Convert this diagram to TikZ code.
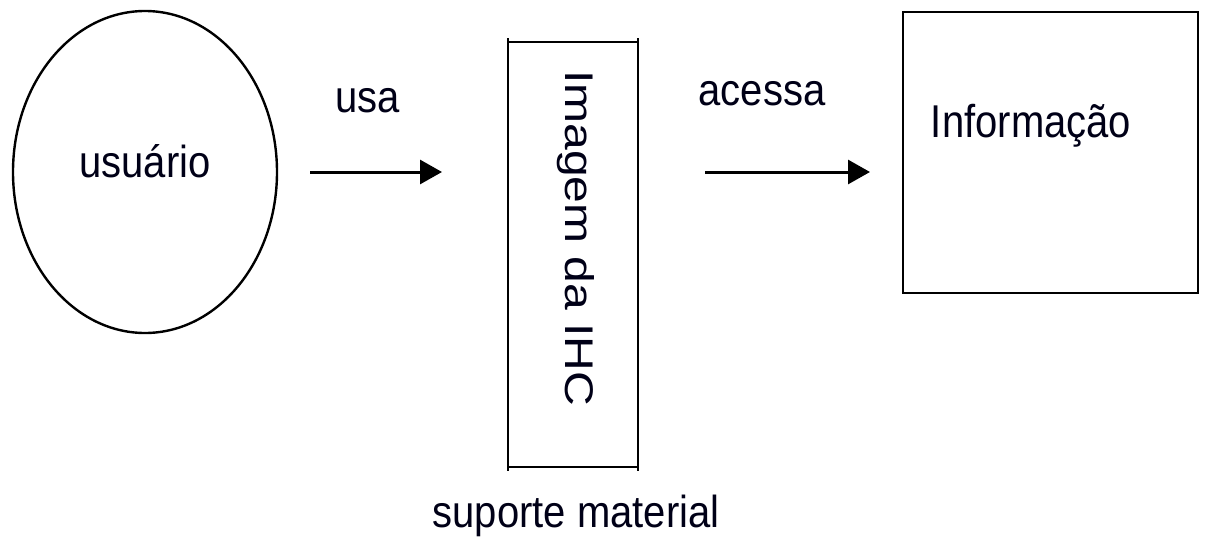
\documentclass[tikz,border=0pt]{standalone}
\usepackage{fontspec}
\setmainfont{Liberation Sans}
\usetikzlibrary{shapes.geometric,arrows.meta}

\tikzset{
  shapeline/.style={draw=black, line width=2.4pt, inner sep=0pt, outer sep=0pt},
  lbl/.style={inner sep=0pt, outer sep=0pt, font=\fontsize{40}{48}\selectfont, text=black!85!blue!60!black},
  flow/.style={line width=3pt, -{Triangle[length=22pt,width=24pt]}},
}

\begin{document}
\begin{tikzpicture}[x=1pt,y=-1pt]
  \useasboundingbox (0,0) rectangle (1205,538);
  \fill[white] (0,0) rectangle (1205,538);

  % user
  \node[shapeline, ellipse, minimum width=264pt, minimum height=322pt] (usr) at (145,172) {};
  \node[lbl, anchor=base, yscale=1.12] (usrtxt) at (145,177) {usuário};

  % interface image on its material support
  \node[shapeline, rectangle, minimum width=130pt, minimum height=425pt] (img) at (573,254.5) {};
  \draw[line width=2.4pt] ([yshift=4pt]img.north west) -- ([yshift=-4pt]img.south west);
  \draw[line width=2.4pt] ([yshift=4pt]img.north east) -- ([yshift=-4pt]img.south east);
  \node[lbl, anchor=base west, yscale=1.2, rotate=-90] (imgtxt) at (565,70) {Imagem da IHC};
  \node[lbl, anchor=base, yscale=1.12] (suporte) at (576,527) {suporte material};

  % information
  \node[shapeline, rectangle, minimum width=295pt, minimum height=281pt] (info) at (1050.5,152.5) {};
  \node[lbl, anchor=base, yscale=1.15] (infotxt) at (1031,137) {Informação};

  % relations
  \draw[flow, shorten <=33pt, shorten >=66pt] (usr.east) -- (usr.east -| img.west);
  \node[lbl, anchor=base, yscale=1.12] (usa) at (368,112) {usa};
  \draw[flow, shorten <=67pt, shorten >=33pt] (usr.east -| img.east) -- (usr.east -| info.west);
  \node[lbl, anchor=base, yscale=1.12] (acessa) at (762,105) {acessa};
\end{tikzpicture}
\end{document}
